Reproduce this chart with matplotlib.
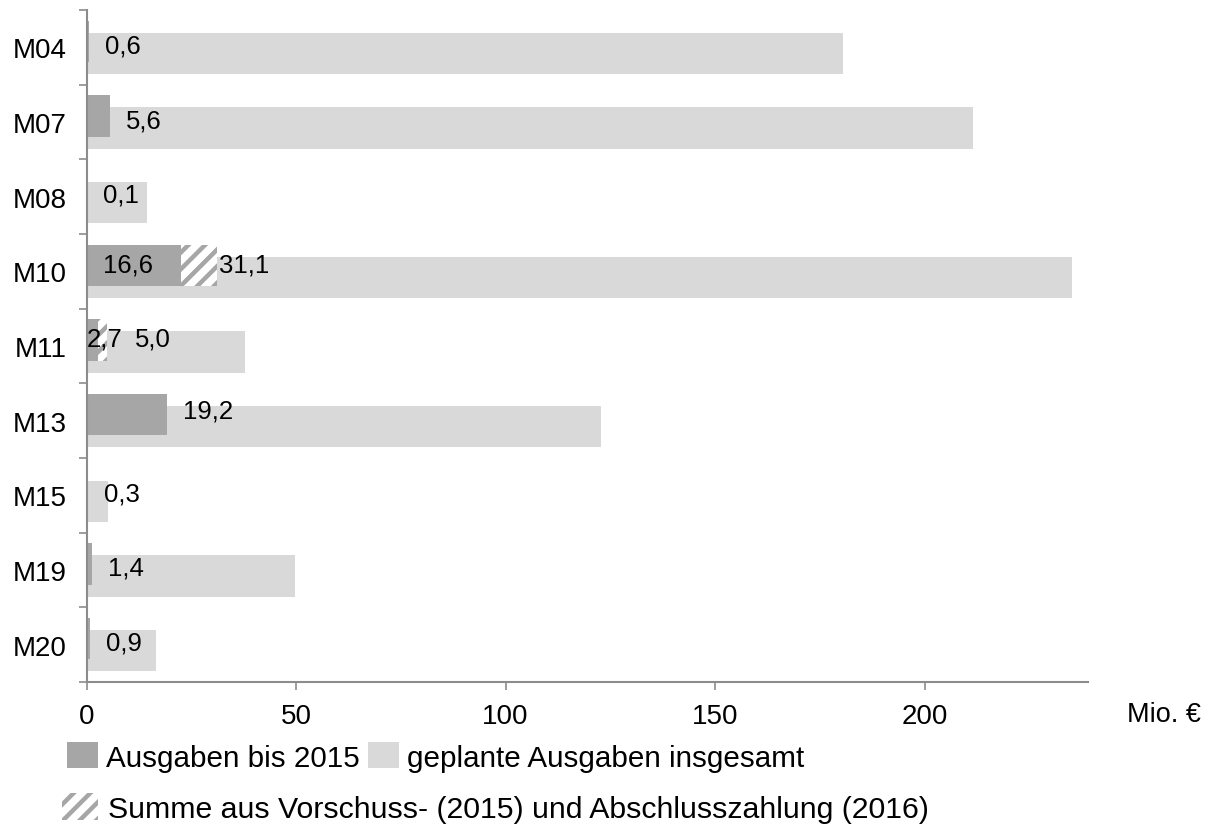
#!/usr/bin/env python3
"""Horizontal bar chart: spending up to 2015 vs. planned total per measure."""

import matplotlib

matplotlib.use("Agg")

import matplotlib.pyplot as plt
import numpy as np
from matplotlib.patches import Patch

plt.rcParams["font.family"] = ["Liberation Sans", "DejaVu Sans"]
plt.rcParams["hatch.linewidth"] = 3.2

categories = ["M04", "M07", "M08", "M10", "M11", "M13", "M15", "M19", "M20"]
planned_total = [180.5, 211.6, 14.4, 235.2, 37.8, 122.8, 5.1, 49.8, 16.7]
spent_2015 = [0.6, 5.6, 0.1, 22.5, 2.7, 19.2, 0.3, 1.4, 0.9]
advance_final = [0.0, 0.0, 0.0, 31.1, 5.0, 0.0, 0.0, 0.0, 0.0]
spent_labels = ["0,6", "5,6", "0,1", "16,6", "2,7", "19,2", "0,3", "1,4", "0,9"]
advance_labels = ["", "", "", "31,1", "5,0", "", "", "", ""]
x_ticks = [0, 50, 100, 150, 200]

DARK = "#a6a6a6"
LIGHT = "#d9d9d9"
AXIS = "#8c8c8c"

fig = plt.figure(figsize=(12.1, 8.29), dpi=100)
ax = fig.add_axes([86.5 / 1210, 1 - 683 / 829, (1088 - 86.5) / 1210, (683 - 11) / 829])

y = np.arange(len(categories))
bar_h = 0.55
shift = 0.08

ax.barh(y + shift, planned_total, height=bar_h, color=LIGHT, zorder=1)
ax.barh(y - shift, spent_2015, height=bar_h, color=DARK, zorder=2)

# hatched part: from the end of the 2015 spending up to advance + final payment
adv = np.array(advance_final)
spent = np.array(spent_2015)
mask = adv > 0
ax.barh(y[mask] - shift, adv[mask] - spent[mask], left=spent[mask], height=bar_h,
        facecolor="white", hatch="//", edgecolor=DARK, linewidth=0, zorder=2)

# value labels (offsets in pixels)
spent_dx = [16, 16, 16, 16, 0, 16, 16, 16, 16]
spent_dy = [2, 2, 2, 7, 7, 10, 2, 2, 2]
for i in range(len(categories)):
    # M10 / M11 labels sit at the start of the bar
    x0 = 0.0 if i in (3, 4) else spent_2015[i]
    ax.annotate(spent_labels[i], (x0, y[i]), xytext=(spent_dx[i], spent_dy[i]),
                textcoords="offset pixels", ha="left", va="center",
                fontsize=18.5, color="black", zorder=4)
    if advance_labels[i]:
        adx = 2 if i == 3 else 27
        ax.annotate(advance_labels[i], (advance_final[i], y[i]), xytext=(adx, spent_dy[i]),
                    textcoords="offset pixels", ha="left", va="center",
                    fontsize=18.5, color="black", zorder=4)

ax.set_xlim(0, 239)
ax.set_ylim(len(categories) - 0.5, -0.5)

ax.set_yticks(y)
ax.set_yticklabels(categories)
ax.set_yticks(np.arange(len(categories) + 1) - 0.5, minor=True)
ax.tick_params(axis="y", which="major", length=0, pad=14.5, labelsize=20)
ax.tick_params(axis="y", which="minor", length=5.8, width=1.2, color=AXIS, direction="out")

ax.set_xticks(x_ticks)
ax.set_xticklabels([str(t) for t in x_ticks])
ax.tick_params(axis="x", length=5.8, width=1.2, color=AXIS, direction="out", pad=9, labelsize=20)

for side in ("top", "right"):
    ax.spines[side].set_visible(False)
for side in ("left", "bottom"):
    ax.spines[side].set_color(AXIS)
    ax.spines[side].set_linewidth(1.5)

fig.text(1127 / 1210, 1 - 715 / 829, "Mio. €", ha="left", va="center", fontsize=19.5)

# legend, first row: the two bar series
h1 = [Patch(facecolor=DARK, edgecolor="none"), Patch(facecolor=LIGHT, edgecolor="none")]
fig.legend(h1, ["Ausgaben bis 2015", "geplante Ausgaben insgesamt"],
           loc="center left", bbox_to_anchor=(67 / 1210, 1 - 758 / 829),
           ncol=2, frameon=False, fontsize=21.3, borderpad=0, borderaxespad=0,
           handlelength=1.04, handleheight=0.98, handletextpad=0.27,
           columnspacing=0.3)

# second row: the hatched advance/final payment
h2 = [Patch(facecolor="white", edgecolor=DARK, linewidth=0, hatch="//")]
fig.legend(h2, ["Summe aus Vorschuss- (2015) und Abschlusszahlung (2016)"],
           loc="center left", bbox_to_anchor=(62 / 1210, 1 - 809 / 829),
           frameon=False, fontsize=21.8, borderpad=0, borderaxespad=0,
           handlelength=1.18, handleheight=0.96, handletextpad=0.34)

fig.savefig("out.png", dpi=100)
